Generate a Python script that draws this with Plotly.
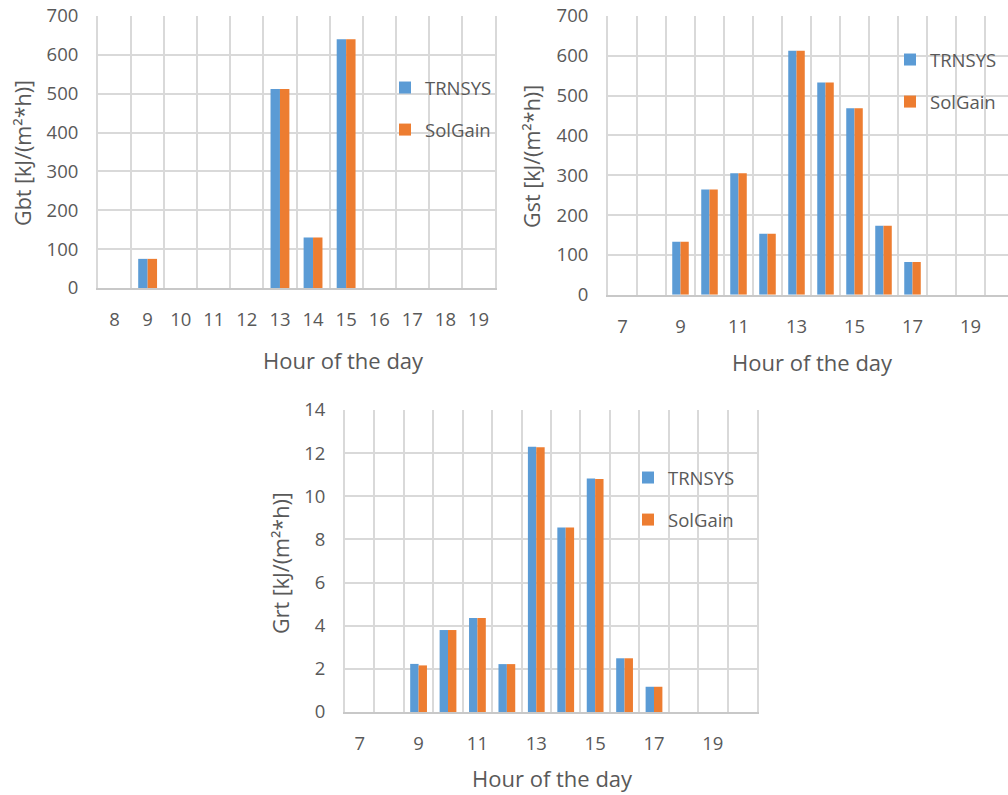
import plotly.graph_objects as go

# ---------------- data ----------------
hours_gbt = [8, 9, 10, 11, 12, 13, 14, 15, 16, 17, 18, 19]
gbt_trnsys = [0, 75, 0, 0, 0, 512, 130, 640, 0, 0, 0, 0]
gbt_solgain = [0, 75, 0, 0, 0, 512, 130, 640, 0, 0, 0, 0]

hours_gst = [7, 8, 9, 10, 11, 12, 13, 14, 15, 16, 17, 18, 19, 20]
gst_trnsys = [0, 0, 133, 264, 305, 153, 613, 533, 468, 173, 82, 0, 0, 0]
gst_solgain = [0, 0, 133, 264, 305, 153, 613, 533, 468, 173, 82, 0, 0, 0]

hours_grt = [7, 8, 9, 10, 11, 12, 13, 14, 15, 16, 17, 18, 19, 20]
grt_trnsys = [0, 0, 2.23, 3.8, 4.36, 2.22, 12.3, 8.55, 10.83, 2.49, 1.17, 0, 0, 0]
grt_solgain = [0, 0, 2.16, 3.8, 4.36, 2.22, 12.27, 8.55, 10.8, 2.49, 1.17, 0, 0, 0]

ticks_gbt = [8, 9, 10, 11, 12, 13, 14, 15, 16, 17, 18, 19]
ticks_odd = [7, 9, 11, 13, 15, 17, 19]

series_names = ["TRNSYS", "SolGain"]
colors = ["#5B9BD5", "#ED7D31"]

W, H = 1008, 795
FONT = "Open Sans"
TXT = "#595959"
GRID = "#d9d9d9"


def px(x):
    return x / W


def py(y):
    return 1 - y / H


fig = go.Figure()

panels = [
    dict(x=hours_gbt, ys=[gbt_trnsys, gbt_solgain], xa="x", ya="y", leg="legend"),
    dict(x=hours_gst, ys=[gst_trnsys, gst_solgain], xa="x2", ya="y2", leg="legend2"),
    dict(x=hours_grt, ys=[grt_trnsys, grt_solgain], xa="x3", ya="y3", leg="legend3"),
]
for p in panels:
    for name, col, y in zip(series_names, colors, p["ys"]):
        fig.add_trace(go.Bar(x=p["x"], y=y, name=name, marker_color=col,
                             marker_line_width=0, xaxis=p["xa"], yaxis=p["ya"],
                             legend=p["leg"], legendgroup=name + p["leg"]))


def xax(domain, rng, tickvals, anchor):
    return dict(domain=domain, range=rng, anchor=anchor, tickmode="array",
                tickvals=tickvals, ticktext=[str(t) for t in tickvals],
                showgrid=False, showline=True, linecolor="#c8c8c8", linewidth=2,
                ticks="", ticklabelstandoff=14, zeroline=False, automargin=False,
                tickfont=dict(family=FONT, size=18.5, color=TXT),
                minor=dict(tick0=0.5, dtick=1, showgrid=True, gridcolor=GRID, gridwidth=2))


def yax(domain, rng, dtick, anchor, mirror=True):
    return dict(domain=domain, range=rng, anchor=anchor, dtick=dtick,
                showgrid=True, gridcolor=GRID, gridwidth=2, zeroline=False,
                showline=True, linecolor=GRID, linewidth=2, mirror=mirror,
                ticks="", ticklabelstandoff=14, automargin=False,
                tickfont=dict(family=FONT, size=18.5, color=TXT))


cw2 = 29.0
fig.update_layout(
    width=W, height=H, autosize=False,
    margin=dict(l=0, r=0, t=0, b=0, autoexpand=False),
    paper_bgcolor="white", plot_bgcolor="white",
    barmode="group", bargap=0.43, bargroupgap=0,
    xaxis=xax([px(98), px(495)], [7.5, 19.5], ticks_gbt, "y"),
    yaxis=yax([py(288), py(16)], [0, 700], 100, "x"),
    xaxis2=xax([px(608), 1.0], [6.5, 6.5 + (W - 608) / cw2], ticks_odd, "y2"),
    yaxis2=yax([py(294.7), py(16)], [0, 700], 100, "x2", mirror=False),
    xaxis3=xax([px(345), px(757)], [6.5, 20.5], ticks_odd, "y3"),
    yaxis3=yax([py(712), py(410)], [0, 14], 2, "x3"),
)

legfont = dict(family=FONT, size=18.5, color=TXT)
for key, lx, ly in [("legend", 385, 69), ("legend2", 890, 41), ("legend3", 628, 459)]:
    fig.update_layout({key: dict(x=px(lx), y=py(ly), xanchor="left", yanchor="top",
                                 bgcolor="rgba(0,0,0,0)", font=legfont,
                                 tracegroupgap=15, itemwidth=30)})

ann = []
for text, x, y in [("Hour of the day", 343, 360), ("Hour of the day", 812, 362),
                   ("Hour of the day", 552, 778)]:
    ann.append(dict(text=text, x=px(x), y=py(y), xref="paper", yref="paper",
                    showarrow=False, xanchor="center", yanchor="middle",
                    font=dict(family=FONT, size=22, color=TXT)))
for text, x, y in [("Gbt [kJ/(m²*h)]", 23, 153), ("Gst [kJ/(m²*h)]", 532, 157),
                   ("Grt [kJ/(m²*h)]", 280, 563)]:
    ann.append(dict(text=text, x=px(x), y=py(y), xref="paper", yref="paper",
                    showarrow=False, xanchor="center", yanchor="middle", textangle=-90,
                    font=dict(family=FONT, size=21.5, color=TXT)))
fig.update_layout(annotations=ann)

# remove the browser's default 8px page margin so the figure fills the window
fig.write_html("out.html", config={"displayModeBar": False},
               post_script="document.body.style.margin='0';"
                           "document.body.style.overflow='hidden';")
